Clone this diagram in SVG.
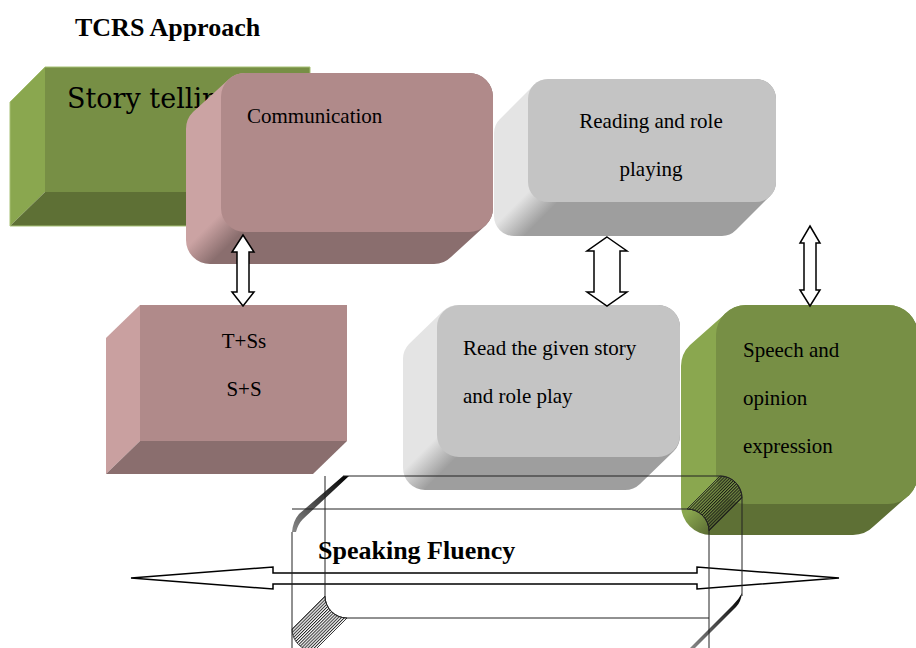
<svg xmlns="http://www.w3.org/2000/svg" width="916" height="648" viewBox="0 0 916 648">
<defs>
<style>
text{font-family:"Liberation Serif","Times New Roman",serif;fill:#000}
.t{font-size:21px}
.b{font-weight:bold;font-size:26px}
.pf{fill:#B08A8A}.pl{fill:#C9A0A0}.pb{fill:#8A6E6E}
.gf{fill:#778F45}.gl{fill:#8AA74F}.gb{fill:#5E7035}
.wf{fill:none;stroke:#222;stroke-width:1}
.arr{fill:#fff;stroke:#000;stroke-width:1.5;stroke-linejoin:miter}
</style>
<linearGradient id="gComm" gradientUnits="userSpaceOnUse" x1="216" y1="218" x2="236" y2="238"><stop offset="0" stop-color="#CBA3A3"/><stop offset="1" stop-color="#8A6E6E"/></linearGradient>
<linearGradient id="gRead" gradientUnits="userSpaceOnUse" x1="520" y1="200" x2="540" y2="220"><stop offset="0" stop-color="#E4E4E4"/><stop offset="1" stop-color="#9E9E9E"/></linearGradient>
<linearGradient id="gGiven" gradientUnits="userSpaceOnUse" x1="432" y1="442" x2="452" y2="462"><stop offset="0" stop-color="#E4E4E4"/><stop offset="1" stop-color="#9E9E9E"/></linearGradient>
<linearGradient id="gSpeech" gradientUnits="userSpaceOnUse" x1="700" y1="500" x2="720" y2="520"><stop offset="0" stop-color="#8AA74F"/><stop offset="1" stop-color="#5E7035"/></linearGradient>
<linearGradient id="gEdge" x1="1" y1="0" x2="0" y2="1"><stop offset="0" stop-color="#000"/><stop offset="1" stop-color="#888"/></linearGradient>
<pattern id="hatch" patternUnits="userSpaceOnUse" width="2.2" height="4" patternTransform="rotate(45)"><line x1="0.5" y1="0" x2="0.5" y2="4" stroke="#111" stroke-width="0.9"/></pattern>
</defs>
<rect width="916" height="648" fill="#fff"/>

<g id="title"><text class="b" x="75" y="36">TCRS Approach</text></g>

<g id="story-telling">
<polygon class="gf" points="45,67 310,67 310,192 45,192"/>
<polygon class="gl" points="10,102 45,67 45,192 10,226"/>
<polygon class="gb" points="10,226 45,192 310,192 275,226"/>
<polygon points="10,102 45,67 310,67 310,192 275,226 10,226" fill="none" stroke="#A6C074" stroke-width="1"/>
<text x="67" y="108" style="font-family:'DejaVu Serif',serif;font-size:27px">Story telling</text>
</g>

<g id="communication">
<path fill="url(#gComm)" d="M228,80 A24,24 0 0 1 245,73 H469 A24,24 0 0 1 493,97 V208 A24,24 0 0 1 486,225 L451,257 A24,24 0 0 1 434,264 H210 A24,24 0 0 1 186,240 V129 A24,24 0 0 1 193,112 Z"/>
<rect class="pf" x="221" y="73" width="272" height="159" rx="24"/>
<text class="t" x="247" y="123">Communication</text>
</g>

<g id="reading-role-playing">
<path fill="url(#gRead)" d="M534,85 A20,20 0 0 1 548,79 H756 A20,20 0 0 1 776,99 V182 A20,20 0 0 1 770,196 L736,230 A20,20 0 0 1 722,236 H514 A20,20 0 0 1 494,216 V133 A20,20 0 0 1 500,119 Z"/>
<rect x="528" y="79" width="248" height="123" rx="20" fill="#C4C4C4"/>
<text class="t" x="651" y="128" text-anchor="middle">Reading and role</text>
<text class="t" x="651" y="176" text-anchor="middle">playing</text>
</g>

<g id="tss">
<polygon class="pf" points="140,305 347,305 347,441 140,441"/>
<polygon class="pl" points="106,338 140,305 140,441 106,474"/>
<polygon class="pb" points="106,474 140,441 347,441 313,474"/>
<text class="t" x="244" y="348" text-anchor="middle">T+Ss</text>
<text class="t" x="244" y="396" text-anchor="middle">S+S</text>
</g>

<g id="read-given-story">
<path fill="url(#gGiven)" d="M443,311 A22,22 0 0 1 459,305 H658 A22,22 0 0 1 680,327 V435 A22,22 0 0 1 674,451 L640,484 A22,22 0 0 1 624,490 H425 A22,22 0 0 1 403,468 V360 A22,22 0 0 1 409,344 Z"/>
<rect x="437" y="305" width="243" height="152" rx="22" fill="#C4C4C4"/>
<text class="t" x="463" y="355">Read the given story</text>
<text class="t" x="463" y="403">and role play</text>
</g>

<g id="speech-opinion">
<path fill="url(#gSpeech)" d="M725,314 A30,30 0 0 1 746,305 H888 A30,30 0 0 1 918,335 V474 A30,30 0 0 1 909,495 L874,526 A30,30 0 0 1 853,535 H711 A30,30 0 0 1 681,505 V366 A30,30 0 0 1 690,345 Z"/>
<rect class="gf" x="716" y="305" width="202" height="199" rx="30"/>
<text class="t" x="743" y="357">Speech and</text>
<text class="t" x="743" y="405">opinion</text>
<text class="t" x="743" y="453">expression</text>
</g>

<g id="connectors">
<path class="arr" d="M243,235 L254,252 L249,252 V292 L254,292 L243,306 L232,292 L237,292 V252 L232,252 Z"/>
<path class="arr" d="M607,237 L627,251 L620,251 V292 L627,292 L607,306 L587,292 L594,292 V251 L587,251 Z"/>
<path class="arr" d="M810,226 L820,243 L816,243 V290 L820,290 L810,306 L800,290 L804,290 V243 L800,243 Z"/>
<path class="arr" stroke-width="1.7" d="M131,578 L273,567 V573 H697 V567 L839,578 L697,589 V584 H273 V589 Z"/>
</g>

<g id="speaking-fluency">
<path fill="url(#hatch)" stroke="#222" stroke-width="0.8" d="M720,476 A22,22 0 0 1 742,498 L709,531 A22,22 0 0 0 687,509 Z"/>
<path fill="url(#hatch)" stroke="#222" stroke-width="0.8" d="M325,596 A22,22 0 0 0 347,618 L314,651 A22,22 0 0 1 292,629 Z"/>
<path fill="url(#gEdge)" d="M343,476 L349,476 L303,519 Q298,524 296,532 L292,532 Q293,521 299,514 Z"/>
<path fill="url(#gEdge)" d="M742,593 Q741,602 736,607 L695,648 L690,648 L733,605 Q739,599 742,593 Z"/>
<path class="wf" d="M343,476 H720 A22,22 0 0 1 742,498 V596"/>
<path class="wf" d="M292,509 H687 A22,22 0 0 1 709,531 V648"/>
<path class="wf" d="M325,476 V596 A22,22 0 0 0 347,618 H709"/>
<path class="wf" d="M292,532 V648"/>
<text class="b" x="318" y="559">Speaking Fluency</text>
</g>
</svg>
